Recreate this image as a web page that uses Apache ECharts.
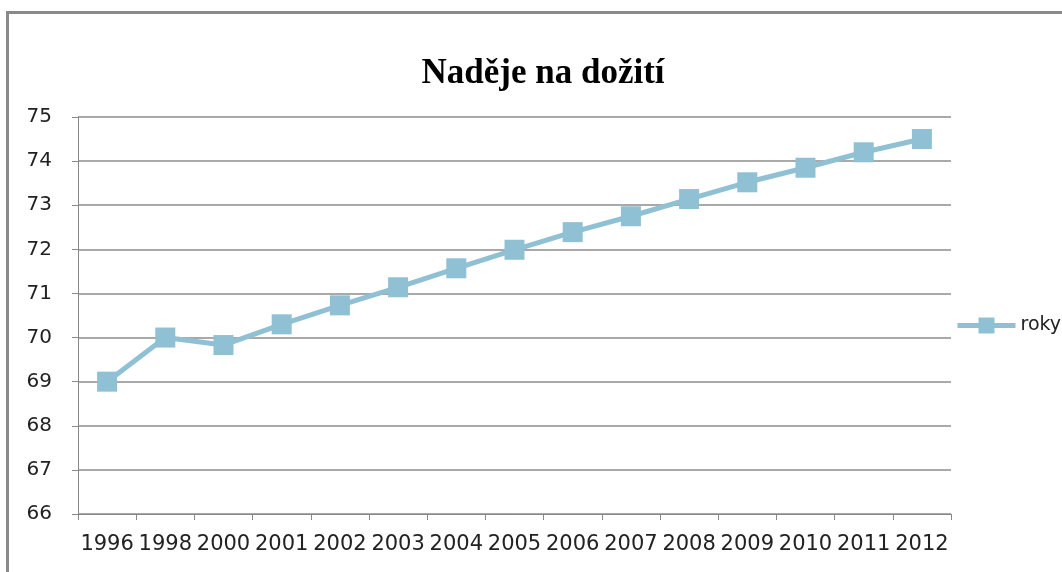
<!DOCTYPE html>
<html>
<head>
<meta charset="utf-8">
<script src="https://cdn.jsdelivr.net/npm/echarts@6/dist/echarts.min.js"></script>
<style>html,body{margin:0;padding:0;background:#fff;}#c{width:1062px;height:572px;}</style>
</head>
<body>
<div id="c"></div>
<script>
const titleText = 'Naděje na dožití';
const seriesName = 'roky';
const categories = ['1996','1998','2000','2001','2002','2003','2004','2005','2006','2007','2008','2009','2010','2011','2012'];
const values = [69.0, 70.0, 69.83, 70.3, 70.73, 71.14, 71.57, 71.99, 72.39, 72.75, 73.14, 73.52, 73.85, 74.2, 74.5];
const yMin = 66, yMax = 75, yStep = 1;

const chart = echarts.init(document.getElementById('c'), null, {renderer: 'canvas'});
const lineColor = '#8fc0d4';
chart.setOption({
  animation: false,
  backgroundColor: '#fff',
  graphic: [{
    type: 'rect', left: 5, top: 10, silent: true,
    shape: {x: 0, y: 0, width: 1200, height: 700},
    style: {fill: 'none', stroke: '#8a8a8a', lineWidth: 3}
  }],
  title: {
    text: titleText, left: 538, top: 51, textAlign: 'center',
    textStyle: {fontFamily: 'Liberation Serif', fontWeight: 'bold', fontSize: 35, color: '#000'}
  },
  legend: {
    left: 955, top: 316, padding: 0, itemWidth: 58, itemHeight: 20, itemGap: 5,
    lineStyle: {width: 5, color: lineColor},
    textStyle: {fontFamily: 'DejaVu Sans', fontSize: 19, color: '#222'},
    data: [{name: seriesName}]
  },
  grid: {left: 78, right: 111, top: 117, bottom: 58, containLabel: false},
  xAxis: {
    type: 'category', data: categories, boundaryGap: true,
    axisLine: {lineStyle: {color: '#888', width: 1}},
    axisTick: {show: true, length: 6, lineStyle: {color: '#888'}},
    axisLabel: {fontFamily: 'DejaVu Sans', fontSize: 21, color: '#222', margin: 20, interval: 0}
  },
  yAxis: {
    type: 'value', min: yMin, max: yMax, interval: yStep,
    axisLine: {show: true, lineStyle: {color: '#888', width: 1}},
    axisTick: {show: true, length: 6, lineStyle: {color: '#888'}},
    axisLabel: {fontFamily: 'DejaVu Sans', fontSize: 20, color: '#222', margin: 26},
    splitLine: {show: true, lineStyle: {color: '#8c8c8c', width: 1.5}}
  },
  series: [{
    name: seriesName, type: 'line', data: values,
    symbol: 'rect', symbolSize: 20,
    lineStyle: {color: lineColor, width: 5},
    itemStyle: {color: lineColor, borderWidth: 0},
    z: 3
  }]
});
</script>
</body>
</html>
